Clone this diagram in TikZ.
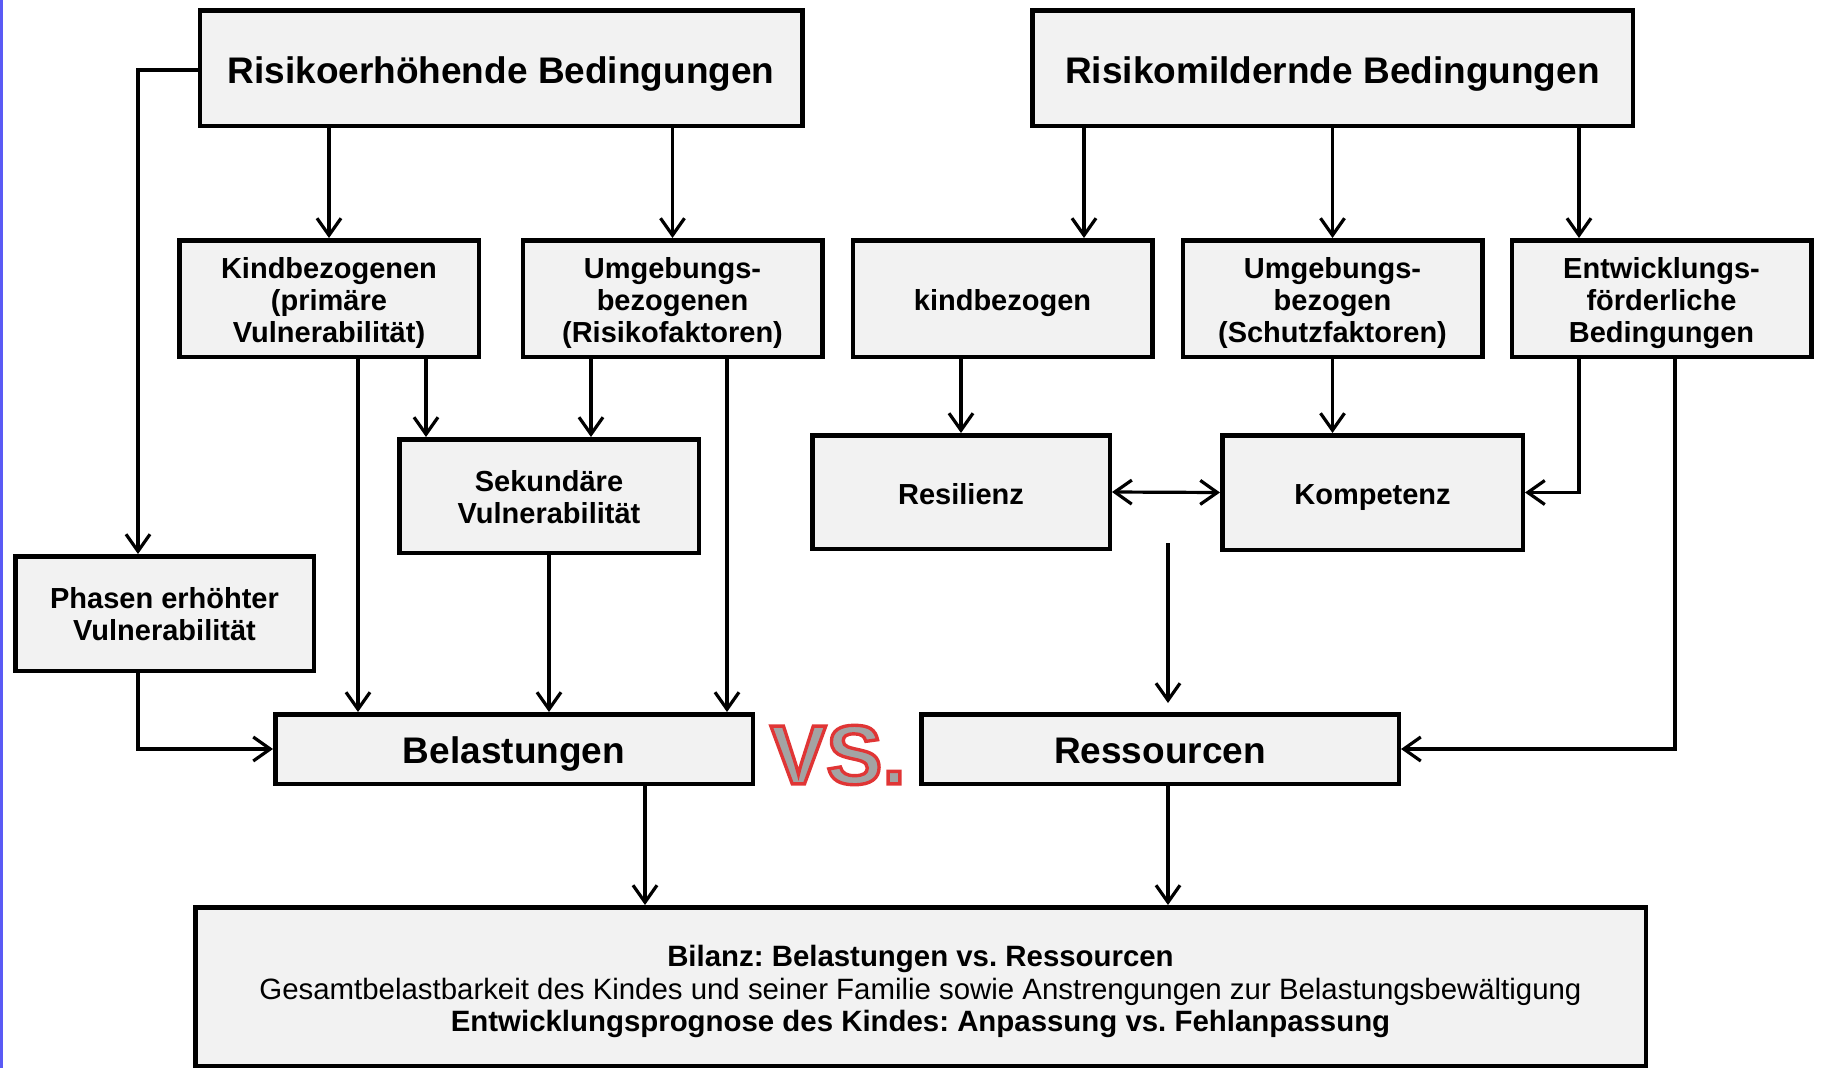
\documentclass[tikz,border=0pt]{standalone}
\usepackage{fontspec}
\setmainfont{Liberation Sans}
\newfontfamily\vsfamily[BoldFeatures={FakeBold=4}]{Liberation Sans}
\usetikzlibrary{arrows.meta,calc}
\definecolor{boxfill}{HTML}{F2F2F2}
\definecolor{edgeblue}{HTML}{5A5AF5}
\definecolor{vsgray}{HTML}{A3A3A3}
\newcommand{\lowertext}[1]{\rule{0pt}{\dimexpr0.73em+#1\relax}}
\newcommand{\redstroke}{\special{pdf:literal direct 0.878 0.208 0.208 RG}}
\begin{document}
\frenchspacing
\begin{tikzpicture}[x=1pt,y=-1pt,
  box/.style={draw=black, line width=4.5pt, fill=boxfill, align=center, inner sep=0pt,
    font=\bfseries\fontsize{29}{32}\selectfont},
  midbox/.style={box, minimum width=299.5pt, minimum height=116.5pt},
  titlebox/.style={box, minimum height=115.5pt, font=\bfseries\fontsize{37}{42}\selectfont},
  arr/.style={line width=3.2pt, -{Straight Barb[length=17pt,width=24pt]}},
  darr/.style={line width=3.2pt, {Straight Barb[length=17pt,width=24pt]}-{Straight Barb[length=17pt,width=24pt]}},
  vsfont/.style={font=\vsfamily\bfseries\fontsize{84}{90}\selectfont, inner sep=0pt}
]
\useasboundingbox (0,0) rectangle (1822,1068);
\fill[edgeblue] (0,0) rectangle (2.5,1068);

% top boxes
\node[titlebox, minimum width=602.5pt] (R1) at (501,68) {\lowertext{11pt}Risikoerhöhende Bedingungen};
\node[titlebox, minimum width=600.5pt] (R2) at (1332.5,68) {\lowertext{11pt}Risikomildernde Bedingungen};

% second row
\node[midbox] (K1) at (329,298.5) {\lowertext{8pt}Kindbezogenen\\(primäre\\Vulnerabilität)};
\node[midbox] (U1) at (672.5,298.5) {\lowertext{8pt}Umgebungs-\\bezogenen\\(Risikofaktoren)};
\node[midbox] (K2) at (1002.5,298.5) {\lowertext{9pt}kindbezogen};
\node[midbox] (U2) at (1332.5,298.5) {\lowertext{8pt}Umgebungs-\\bezogen\\(Schutzfaktoren)};
\node[midbox] (E) at (1661.5,298.5) {\lowertext{8pt}Entwicklungs-\\förderliche\\Bedingungen};

% third row
\node[box, minimum width=299.5pt, minimum height=113.5pt] (S) at (549,496) {\lowertext{2pt}Sekundäre\\Vulnerabilität};
\node[box, minimum width=298.5pt, minimum height=114.5pt] (P) at (164.5,613.5) {\lowertext{2pt}Phasen erhöhter\\Vulnerabilität};
\node[box, minimum width=297.5pt, minimum height=113.5pt] (Res) at (961,492) {\lowertext{5pt}Resilienz};
\node[box, minimum width=300.5pt, minimum height=114.5pt] (Kom) at (1372.5,492.5) {\lowertext{9pt}Kompetenz};

% fourth row
\node[box, minimum width=477.5pt, minimum height=69.5pt, font=\bfseries\fontsize{37}{42}\selectfont] (Bel) at (514,749) {\lowertext{9pt}Belastungen};
\node[box, minimum width=477.5pt, minimum height=69.5pt, font=\bfseries\fontsize{37}{42}\selectfont] (Ress) at (1160,749) {\lowertext{3pt}Ressourcen};

% bottom
\node[box, minimum width=1450.5pt, minimum height=158.5pt, font=\fontsize{29.4}{32.5}\selectfont] (Bil) at (920.5,986.5)
  {\lowertext{10pt}{\bfseries Bilanz: Belastungen vs. Ressourcen}\\Gesamtbelastbarkeit des Kindes und seiner Familie sowie Anstrengungen zur Belastungsbewältigung\\{\bfseries Entwicklungsprognose des Kindes: Anpassung vs. Fehlanpassung}};

% VS.
\node[vsfont, text=vsgray] (vs) at (838,755) {\redstroke VS.};

% x positions
\coordinate (xa) at (138,0);
\coordinate (xb) at (1084,0);
\coordinate (xc) at (1579,0);
\coordinate (xd) at (426,0);
\coordinate (xe) at (591,0);
\coordinate (xf) at (358,0);
\coordinate (xg) at (727,0);
\coordinate (xh) at (1675,0);
\coordinate (xi) at (645,0);
\coordinate (xj) at (1168,0);
\coordinate (fr) at (1168,543);

% connectors
\draw[arr] ([yshift=-2pt]R1.west) -| (P.north -| xa);
\draw[arr] (R1.south -| K1.north) -- (K1.north);
\draw[arr] (R1.south -| U1.north) -- (U1.north);
\draw[arr] (R2.south -| xb) -- (K2.north -| xb);
\draw[arr] (R2.south -| U2.north) -- (U2.north);
\draw[arr] (R2.south -| xc) -- (E.north -| xc);

\draw[arr] (K1.south -| xd) -- (S.north -| xd);
\draw[arr] (U1.south -| xe) -- (S.north -| xe);
\draw[arr] (K1.south -| xf) -- (Bel.north -| xf);
\draw[arr] (U1.south -| xg) -- (Bel.north -| xg);
\draw[arr] (S.south) -- (Bel.north -| S.south);
\draw[arr] (P.south -| xa) |- (Bel.west);

\draw[arr] (K2.south -| Res.north) -- (Res.north);
\draw[arr] (U2.south) -- (Kom.north -| U2.south);
\draw[arr] (E.south -| xc) |- (Kom.east);
\draw[arr] (E.south -| xh) |- (Ress.east);
\draw[darr] (Res.east) -- (Kom.west);
\draw[arr, shorten >=9pt] (fr) -- (Ress.north -| fr);

\draw[arr] (Bel.south -| xi) -- (Bil.north -| xi);
\draw[arr] (Ress.south -| xj) -- (Bil.north -| xj);
\end{tikzpicture}
\end{document}
